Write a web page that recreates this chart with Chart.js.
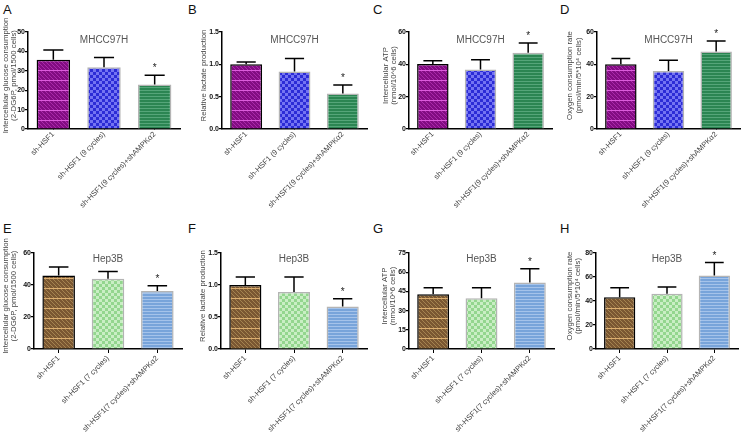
<!DOCTYPE html>
<html>
<head>
<meta charset="utf-8">
<script src="https://cdn.jsdelivr.net/npm/chart.js@4.4.1/dist/chart.umd.min.js"></script>
<style>
  body { margin: 0; background: #fff; width: 747px; height: 435px; position: relative; overflow: hidden; font-family: "Liberation Sans", Arial, sans-serif; }
  .panel { position: absolute; }
  .letter { position: absolute; font-size: 13px; color: #111; line-height: 13px; }
</style>
</head>
<body>
<div class="letter" style="left:3px;top:3px">A</div>
<div class="letter" style="left:188px;top:3px">B</div>
<div class="letter" style="left:373px;top:3px">C</div>
<div class="letter" style="left:560px;top:3px">D</div>
<div class="letter" style="left:3px;top:222px">E</div>
<div class="letter" style="left:188px;top:222px">F</div>
<div class="letter" style="left:373px;top:222px">G</div>
<div class="letter" style="left:560px;top:222px">H</div>

<div class="panel" style="left:0;top:0"><canvas id="chartA" width="186" height="218"></canvas></div>
<div class="panel" style="left:186px;top:0"><canvas id="chartB" width="186" height="218"></canvas></div>
<div class="panel" style="left:372px;top:0"><canvas id="chartC" width="186" height="218"></canvas></div>
<div class="panel" style="left:558px;top:0"><canvas id="chartD" width="189" height="218"></canvas></div>
<div class="panel" style="left:0;top:218px"><canvas id="chartE" width="186" height="217"></canvas></div>
<div class="panel" style="left:186px;top:218px"><canvas id="chartF" width="186" height="217"></canvas></div>
<div class="panel" style="left:372px;top:218px"><canvas id="chartG" width="186" height="217"></canvas></div>
<div class="panel" style="left:558px;top:218px"><canvas id="chartH" width="189" height="217"></canvas></div>

<script>
// categories
const groups97H = ["sh-HSF1", "sh-HSF1 (9 cycles)", "sh-HSF1(9 cycles)+shAMPKα2"]
const groups3B = ["sh-HSF1", "sh-HSF1 (7 cycles)", "sh-HSF1(7 cycles)+shAMPKα2"]

// MHCC97H (top row): means and upper error (SD)
const glucose97H = [35.7, 31.8, 22.9]
const glucoseErr97H = [5.0, 5.0, 4.8]
const lactate97H = [1.0, 0.89, 0.55]
const lactateErr97H = [0.035, 0.2, 0.13]
const atp97H = [40.2, 36.8, 47.2]
const atpErr97H = [2.0, 6.0, 6.0]
const ocr97H = [40.0, 35.8, 47.9]
const ocrErr97H = [3.6, 6.8, 6.5]

// Hep3B (bottom row)
const glucose3B = [46.0, 43.9, 36.2]
const glucoseErr3B = [5.2, 4.6, 3.3]
const lactate3B = [1.0, 0.89, 0.665]
const lactateErr3B = [0.125, 0.235, 0.12]
const atp3B = [42.8, 39.7, 52.0]
const atpErr3B = [5.0, 8.1, 10.7]
const ocr3B = [43.2, 46.0, 61.2]
const ocrErr3B = [7.8, 5.7, 10.8]

// significance marks
const stars = [false, false, true]

// y axis tick settings
const yMax = { A: 50, B: 1.5, C: 60, D: 60, E: 60, F: 1.5, G: 75, H: 80 }
const yStep = { A: 10, B: 0.5, C: 20, D: 20, E: 20, F: 0.5, G: 15, H: 20 }

const glucoseTitle = ["Intercellular glucose consumption", "(2-DG6P, pmol/1500 cells)"]
const lactateTitle = ["Relative lactate production"]
const atpTitle = ["Intercellular ATP", "(nmol/10^6 cells)"]
const ocrTitle = ["Oxygen consumption rate", "(pmol/min/5*10\u2074 cells)"]

// small repeating tiles for the bar fills
const makeTile = (w, h, draw) => {
  const c = document.createElement("canvas")
  c.width = w
  c.height = h
  const g = c.getContext("2d")
  draw(g)
  return g.createPattern(c, "repeat")
}

const checkerLines = (base, alt, line) => makeTile(4, 10, (g) => {
  g.fillStyle = base
  g.fillRect(0, 0, 4, 10)
  g.fillStyle = alt
  for (let y = 0; y < 10; y += 2) {
    g.fillRect((y / 2) % 2 === 0 ? 0 : 2, y, 1, 1)
    g.fillRect((y / 2) % 2 === 0 ? 1 : 3, y + 1, 1, 1)
  }
  g.fillStyle = line
  g.fillRect(0, 0, 4, 1)
})

const checker = (base, alt) => makeTile(6, 6, (g) => {
  g.fillStyle = base
  g.fillRect(0, 0, 6, 6)
  g.fillStyle = alt
  g.fillRect(0, 0, 3, 3)
  g.fillRect(3, 3, 3, 3)
})

const stripes = (base, line) => makeTile(2, 3, (g) => {
  g.fillStyle = base
  g.fillRect(0, 0, 2, 3)
  g.fillStyle = line
  g.fillRect(0, 0, 2, 1)
})

const fills97H = [
  checkerLines("#820c82", "#ab2aab", "#dc5cdc"),
  checker("#2c2cd6", "#7474f2"),
  stripes("#2b8552", "#55a579"),
]
const fills3B = [
  checkerLines("#7a5732", "#a48350", "#dcae70"),
  checker("#93d68e", "#c9eec4"),
  stripes("#78a4da", "#a5c3ea"),
]
const borders = ["#000", "#b4b4b4", "#b4b4b4"]

const FONT = "'Liberation Sans', Arial, sans-serif"

// error bars, stars, y title and the cell-line title inside the plot
const extras = {
  id: "extras",
  afterDatasetsDraw(chart, args, opts) {
    const { ctx, chartArea } = chart
    const yScale = chart.scales.y
    const values = chart.data.datasets[0].data
    ctx.save()
    ctx.strokeStyle = "#000"
    ctx.lineWidth = 1.5
    chart.getDatasetMeta(0).data.forEach((bar, i) => {
      const top = yScale.getPixelForValue(values[i] + opts.errors[i])
      const half = bar.width * 0.3
      ctx.beginPath()
      ctx.moveTo(bar.x, bar.y)
      ctx.lineTo(bar.x, top)
      ctx.moveTo(bar.x - half, top)
      ctx.lineTo(bar.x + half, top)
      ctx.stroke()
      if (stars[i]) {
        ctx.fillStyle = "#222"
        ctx.font = "10px " + FONT
        ctx.textAlign = "center"
        ctx.textBaseline = "alphabetic"
        ctx.fillText("*", bar.x, top - 4)
      }
    })

    // cell line name
    ctx.fillStyle = "#555"
    ctx.font = "10px " + FONT
    ctx.textAlign = "center"
    ctx.textBaseline = "middle"
    ctx.fillText(opts.title, (chartArea.left + chartArea.right) / 2, chartArea.top + opts.titleOffset)

    // rotated y axis title, not squeezed to the axis height
    const lines = opts.yTitle
    const midY = (chartArea.top + chartArea.bottom) / 2 - 5
    ctx.fillStyle = "#444"
    ctx.font = "7.8px " + FONT
    lines.forEach((line, i) => {
      const x = chartArea.left - opts.titleGap - (lines.length - 1 - i) * 8.5
      ctx.save()
      ctx.translate(x, midY)
      ctx.rotate(-Math.PI / 2)
      ctx.fillText(line, 0, 0)
      ctx.restore()
    })
    ctx.restore()
  },
}

const createPanel = (key, p) => {
  const ctx = document.getElementById("chart" + key).getContext("2d")
  const decimals = yStep[key] < 1 ? 1 : 0
  return new Chart(ctx, {
    type: "bar",
    data: {
      labels: p.labels,
      datasets: [
        {
          data: p.values,
          backgroundColor: p.fills,
          borderColor: borders,
          borderWidth: 1.5,
          barPercentage: 0.66,
          categoryPercentage: 1,
        },
      ],
    },
    options: {
      responsive: false,
      animation: false,
      layout: { padding: { top: p.top, right: p.right, left: 0, bottom: 0 } },
      plugins: {
        legend: { display: false },
        tooltip: { enabled: false },
        extras: { errors: p.errors, title: p.title, titleOffset: p.titleOffset, yTitle: p.yTitle, titleGap: p.titleGap },
      },
      scales: {
        x: {
          afterFit: (s) => { s.height = p.xHeight },
          border: { color: "#000", width: 1.5 },
          grid: { display: true, drawOnChartArea: false, offset: false, color: "#000", tickLength: p.xTick, lineWidth: 1 },
          ticks: {
            color: "#444",
            font: { size: 7.5, family: FONT },
            minRotation: 45,
            maxRotation: 45,
            padding: 1,
          },
        },
        y: {
          min: 0,
          max: yMax[key],
          afterFit: (s) => { s.width = p.yWidth },
          border: { color: "#000", width: 1.5 },
          grid: { drawOnChartArea: false, color: "#000", tickLength: 3, lineWidth: 1.2 },
          ticks: {
            stepSize: yStep[key],
            color: "#111",
            padding: 0,
            font: { size: 7, weight: "bold", family: FONT },
            callback: (v) => v.toFixed(decimals),
          },
        },
      },
    },
    plugins: [extras],
  })
}

const top97 = { labels: groups97H, fills: fills97H, title: "MHCC97H", top: 32, xHeight: 89, xTick: 0, titleOffset: 8 }
const top3B = { labels: groups3B, fills: fills3B, title: "Hep3B", top: 35, xHeight: 86, xTick: 4, titleOffset: 6 }

createPanel("A", { ...top97, values: glucose97H, errors: glucoseErr97H, yTitle: glucoseTitle, yWidth: 28, right: 6, titleGap: 14 })
createPanel("B", { ...top97, values: lactate97H, errors: lactateErr97H, yTitle: lactateTitle, yWidth: 36, right: 5, titleGap: 18 })
createPanel("C", { ...top97, values: atp97H, errors: atpErr97H, yTitle: atpTitle, yWidth: 37, right: 6, titleGap: 15 })
createPanel("D", { ...top97, values: ocr97H, errors: ocrErr97H, yTitle: ocrTitle, yWidth: 39, right: 7, titleGap: 18.5 })
createPanel("E", { ...top3B, values: glucose3B, errors: glucoseErr3B, yTitle: glucoseTitle, yWidth: 34, right: 4, titleGap: 20 })
createPanel("F", { ...top3B, values: lactate3B, errors: lactateErr3B, yTitle: lactateTitle, yWidth: 35, right: 5, titleGap: 18 })
createPanel("G", { ...top3B, values: atp3B, errors: atpErr3B, yTitle: atpTitle, yWidth: 37, right: 4, titleGap: 16 })
createPanel("H", { ...top3B, values: ocr3B, errors: ocrErr3B, yTitle: ocrTitle, yWidth: 38, right: 9, titleGap: 18 })
</script>
</body>
</html>
